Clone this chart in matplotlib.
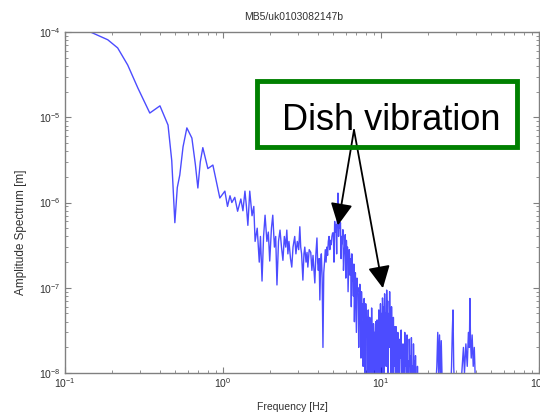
import matplotlib
matplotlib.use("Agg")
import matplotlib.pyplot as plt
from matplotlib.patches import Rectangle

plt.rcParams["font.family"] = ["Liberation Sans", "DejaVu Sans"]
plt.rcParams["mathtext.fontset"] = "custom"
plt.rcParams["mathtext.rm"] = "Liberation Sans"

TITLE = "MB5/uk0103082147b"
X_LABEL = "Frequency [Hz]"
Y_LABEL = "Amplitude Spectrum [m]"
NOTE = "Dish vibration"

# spectrum, in bands: frequency [Hz], amplitude [m]
low_freq = [0.12, 0.14, 0.165, 0.187, 0.216, 0.25, 0.29, 0.345, 0.40, 0.45,
            0.475, 0.497, 0.515, 0.534, 0.56, 0.592, 0.637, 0.67, 0.695, 0.72,
            0.747, 0.804, 0.865, 0.92, 0.957]
low_amp = [1.2e-4, 1.03e-4, 9.0e-5, 8.1e-5, 6.5e-5, 4.1e-5, 2.2e-5, 1.12e-5, 1.36e-5, 8.1e-6,
           3.1e-6, 5.8e-7, 1.5e-6, 2.1e-6, 4.5e-6, 7.5e-6, 5.7e-6, 2.8e-6, 1.48e-6, 3.0e-6,
           4.4e-6, 2.5e-6, 2.75e-6, 1.6e-6, 1.13e-6]

mid_freq = [1.03, 1.07, 1.11, 1.14, 1.19, 1.24, 1.30, 1.34, 1.38, 1.41,
            1.44, 1.48, 1.53, 1.57, 1.60, 1.65, 1.70, 1.73, 1.77, 1.81,
            1.85, 1.90, 1.94, 1.98, 2.03, 2.07, 2.12, 2.16, 2.20, 2.25,
            2.30, 2.35, 2.40, 2.45, 2.50, 2.54, 2.58, 2.62, 2.68, 2.73,
            2.78, 2.85, 2.90, 2.96, 3.02, 3.07, 3.11, 3.15, 3.21, 3.26,
            3.30, 3.36, 3.41, 3.45, 3.52, 3.60, 3.66, 3.72, 3.78, 3.82,
            3.88, 3.94, 3.98, 4.02, 4.07, 4.11, 4.16, 4.20, 4.25, 4.30,
            4.35, 4.40, 4.45, 4.50, 4.55, 4.60, 4.65, 4.70, 4.75, 4.80,
            4.85, 4.90, 4.95]
mid_amp = [1.36e-6, 9.0e-7, 1.2e-6, 1.0e-6, 1.15e-6, 7.9e-7, 1.1e-6, 8.0e-7, 1.36e-6, 9.0e-7,
           5.4e-7, 1.36e-6, 7.0e-7, 9.0e-7, 3.5e-7, 5.0e-7, 2.0e-7, 4.0e-7, 1.2e-7, 4.0e-7,
           7.1e-7, 3.5e-7, 4.5e-7, 2.06e-7, 5.0e-7, 7.1e-7, 3.0e-7, 4.0e-7, 1.08e-7, 3.5e-7,
           4.75e-7, 3.0e-7, 2.1e-7, 4.0e-7, 3.0e-7, 4.75e-7, 2.5e-7, 3.5e-7, 2.2e-7, 1.75e-7,
           3.0e-7, 4.0e-7, 2.5e-7, 3.5e-7, 2.8e-7, 5.2e-7, 3.0e-7, 2.5e-7, 1.23e-7, 2.5e-7,
           3.0e-7, 2.0e-7, 2.6e-7, 1.75e-7, 2.8e-7, 2.6e-7, 1.6e-7, 2.4e-7, 1.5e-7, 1.14e-7,
           2.5e-7, 3.84e-7, 2.0e-7, 1.6e-7, 2.2e-7, 7.2e-8, 2.0e-7, 2.5e-7, 1.3e-7, 2.0e-8,
           1.5e-7, 2.0e-7, 2.8e-7, 2.0e-7, 3.0e-7, 2.4e-7, 3.5e-7, 4.0e-7, 2.8e-7, 3.6e-7,
           3.2e-7, 4.0e-7, 4.4e-7]

peak_freq_band = [5.00, 5.05, 5.10, 5.15, 5.20, 5.25, 5.30, 5.35, 5.40, 5.45,
                  5.50, 5.55, 5.60, 5.65, 5.70, 5.75, 5.80, 5.85, 5.90, 5.95,
                  6.00, 6.05, 6.10, 6.15, 6.20, 6.25, 6.30, 6.35, 6.40, 6.45,
                  6.50, 6.55, 6.60, 6.65, 6.70, 6.75, 6.80, 6.85, 6.90, 6.95,
                  7.00, 7.06, 7.12, 7.18, 7.24, 7.30, 7.36, 7.42, 7.48, 7.54,
                  7.60, 7.66, 7.72, 7.78, 7.84, 7.90, 7.96, 8.02, 8.08, 8.14,
                  8.20, 8.26, 8.32, 8.38, 8.44, 8.50, 8.56, 8.62, 8.68, 8.74,
                  8.80, 8.86, 8.92, 8.98, 9.04, 9.10, 9.16, 9.22, 9.28, 9.34,
                  9.40, 9.46, 9.52, 9.58, 9.64, 9.70, 9.76, 9.82, 9.88, 9.94]
peak_amp_band = [4.4e-7, 2.0e-7, 6.0e-7, 4.5e-7, 5.5e-7, 2.5e-7, 8.0e-7, 1.29e-6, 4.0e-7, 6.5e-7,
                 5.0e-7, 5.8e-7, 2.2e-7, 4.0e-7, 3.3e-7, 4.8e-7, 1.6e-7, 2.5e-7, 3.0e-7, 4.2e-7,
                 1.3e-7, 3.6e-7, 2.6e-7, 3.0e-7, 9.0e-8, 1.6e-7, 2.8e-7, 2.4e-7, 1.4e-7, 2.2e-7,
                 6.0e-8, 2.5e-7, 1.2e-7, 1.5e-7, 8.0e-8, 1.9e-7, 4.0e-8, 1.1e-7, 1.5e-7, 7.0e-8,
                 3.0e-8, 1.3e-7, 9.0e-8, 1.0e-7, 2.0e-8, 6.0e-8, 1.1e-7, 7.0e-8, 1.5e-8, 9.0e-8,
                 5.0e-8, 6.5e-8, 1.2e-8, 4.0e-8, 7.5e-8, 3.0e-8, 8.0e-9, 6.5e-8, 4.0e-8, 4.5e-8,
                 7.0e-9, 3.0e-8, 5.5e-8, 2.0e-8, 5.0e-9, 4.5e-8, 2.5e-8, 3.0e-8, 5.0e-9, 5.8e-8,
                 1.5e-8, 2.5e-8, 4.0e-9, 3.8e-8, 2.2e-8, 3.0e-8, 4.0e-9, 2.0e-8, 4.0e-8, 1.2e-8,
                 5.0e-9, 4.2e-8, 2.4e-8, 3.5e-8, 6.0e-9, 5.5e-8, 1.6e-8, 3.2e-8, 7.0e-9, 6.5e-8]

high_freq = [10.00, 10.08, 10.16, 10.24, 10.32, 10.40, 10.48, 10.56, 10.64, 10.72,
             10.80, 10.88, 10.96, 11.04, 11.12, 11.20, 11.28, 11.36, 11.44, 11.52,
             11.60, 11.68, 11.76, 11.84, 11.92, 12.00, 12.08, 12.16, 12.24, 12.32,
             12.40, 12.48, 12.56, 12.64, 12.72, 12.80, 12.88, 12.96, 13.08, 13.20,
             13.32, 13.44, 13.56, 13.68, 13.80, 13.92, 14.04, 14.16, 14.28, 14.40,
             14.52, 14.64, 14.76, 14.88, 15.00, 15.12, 15.24, 15.36, 15.48, 15.60,
             15.72, 15.84, 15.96, 16.08, 16.20, 16.32, 16.44, 16.56, 16.68, 16.80,
             16.92, 17.04, 17.16, 17.28, 17.40, 17.60]
high_amp = [3.0e-8, 5.0e-8, 8.0e-9, 7.6e-8, 4.5e-8, 6.0e-8, 1.0e-8, 8.5e-8, 3.0e-8, 5.0e-8,
            1.2e-8, 9.4e-8, 4.5e-8, 7.0e-8, 8.0e-9, 5.0e-8, 2.0e-8, 9.0e-8, 3.5e-8, 4.5e-8,
            7.0e-9, 6.0e-8, 2.5e-8, 3.0e-8, 5.0e-9, 4.5e-8, 1.2e-8, 2.5e-8, 3.5e-8, 1.0e-8,
            4.0e-9, 3.5e-8, 1.5e-8, 2.2e-8, 5.0e-9, 3.0e-8, 1.2e-8, 1.8e-8, 4.0e-9, 2.5e-8,
            1.5e-8, 3.2e-8, 5.0e-9, 1.8e-8, 2.2e-8, 1.0e-8, 4.0e-9, 3.0e-8, 1.2e-8, 1.8e-8,
            4.0e-9, 2.8e-8, 9.0e-9, 1.4e-8, 4.0e-9, 2.5e-8, 1.2e-8, 1.6e-8, 4.0e-9, 2.6e-8,
            7.0e-9, 1.2e-8, 4.0e-9, 2.2e-8, 1.0e-8, 1.4e-8, 4.0e-9, 1.6e-8, 5.0e-9, 9.0e-9,
            4.0e-9, 1.2e-8, 5.0e-9, 8.0e-9, 4.0e-9, 6.0e-9]

tail_freq = [18.5, 20.0, 22.0, 22.6, 22.9, 23.2, 23.5, 23.8, 24.1, 24.5,
             25.5, 27.5, 28.0, 28.3, 28.6, 28.9, 29.3, 31.0, 32.5, 33.3,
             33.8, 34.5, 35.2, 35.8, 36.3, 36.6, 36.9, 37.3, 37.8, 38.4,
             39.0, 39.6, 40.3, 41.0]
tail_amp = [4.0e-9, 4.0e-9, 5.0e-9, 1.2e-8, 3.0e-8, 1.0e-8, 2.8e-8, 8.0e-9, 2.4e-8, 6.0e-9,
            5.0e-9, 5.0e-9, 1.2e-8, 3.0e-8, 5.5e-8, 1.2e-8, 6.0e-9, 5.0e-9, 1.0e-8, 2.0e-8,
            1.0e-8, 2.2e-8, 1.2e-8, 3.0e-8, 2.0e-8, 7.5e-8, 2.5e-8, 1.5e-8, 2.8e-8, 1.2e-8,
            2.0e-8, 8.0e-9, 6.0e-9, 4.0e-9]

# arrow tips (frequency, amplitude) of the two peaks
tip_freq = [5.35, 10.3]
tip_amp = [5.4e-7, 9.9e-8]

freq = low_freq + mid_freq + peak_freq_band + high_freq + tail_freq
amp = low_amp + mid_amp + peak_amp_band + high_amp + tail_amp

fig = plt.figure(figsize=(5.4, 4.15), dpi=100)
ax = fig.add_axes([0.120, 0.101, 0.878, 0.822])

ax.plot(freq, amp, color="#0000ff", lw=1.0, alpha=0.7)
ax.set_xscale("log")
ax.set_yscale("log")
ax.set_xlim(0.1, 100)
ax.set_ylim(1e-8, 1e-4)

for s in ax.spines.values():
    s.set_color("#808080")
    s.set_linewidth(1.0)
ax.tick_params(which="both", direction="in", top=True, right=True,
               colors="#808080", labelcolor="#303030", labelsize=7.5)
ax.tick_params(which="major", length=4)
ax.tick_params(which="minor", length=2.5)
ax.tick_params(axis="y", pad=3)
ax.tick_params(axis="x", pad=2)

fig.text(0.543, 1 - 17 / 415, TITLE, ha="center", va="center",
         fontsize=7.5, color="#303030")
fig.text(0.541, 1 - 407 / 415, X_LABEL, ha="center", va="center",
         fontsize=7.5, color="#303030")
fig.text(21 / 540, 1 - 232 / 415, Y_LABEL, ha="center", va="center",
         rotation=90, fontsize=8.5, color="#303030")

# green note box with the two arrows
fig.patches.append(Rectangle((257 / 540, 1 - 147 / 415), 260 / 540, 66 / 415,
                             transform=fig.transFigure, fill=False,
                             edgecolor="#008000", lw=3.5))
fig.text(391 / 540, 1 - 130 / 415, NOTE, ha="center", va="baseline",
         fontsize=26, color="black")
for pf, pa in zip(tip_freq, tip_amp):
    ax.annotate("", xy=(pf, pa), xycoords="data",
                xytext=(354 / 540, 1 - 130 / 415), textcoords="figure fraction",
                arrowprops=dict(arrowstyle="-|>,head_length=0.9,head_width=0.45",
                                mutation_scale=15, lw=1.3, color="black",
                                shrinkA=0, shrinkB=0),
                annotation_clip=False)

fig.savefig("out.png", dpi=100)
